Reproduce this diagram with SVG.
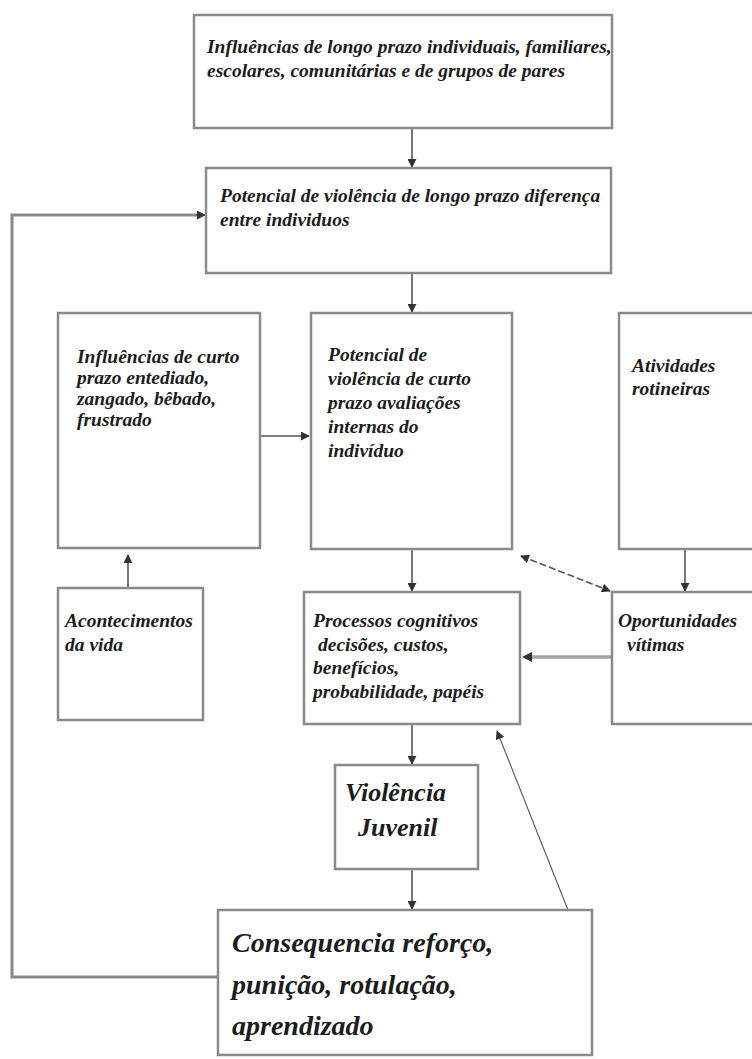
<svg xmlns="http://www.w3.org/2000/svg" width="752" height="1059" viewBox="0 0 752 1059">
<defs>
<style>
.box{fill:#ffffff;stroke:#8a8a8a;stroke-width:2.5}
.t{font-family:"Liberation Serif","Times New Roman",serif;font-weight:bold;font-style:italic;fill:#1c1c1c;font-size:19.5px}
.big{font-size:26px}
.huge{font-size:28px}
.c{fill:none;stroke:#555555;stroke-width:1.6}
</style>
<marker id="ah" viewBox="0 0 10 10" refX="9" refY="5" markerWidth="9" markerHeight="9" markerUnits="userSpaceOnUse" orient="auto-start-reverse">
<path d="M0,0 L10,5 L0,10 z" fill="#333333"/>
</marker>
</defs>
<rect width="752" height="1059" fill="#ffffff"/>
<g id="connectors">
<path class="c" d="M412,128 V167" marker-end="url(#ah)"/>
<path class="c" d="M412,273 V312" marker-end="url(#ah)"/>
<path class="c" d="M260,436 H309" marker-end="url(#ah)"/>
<path class="c" d="M128,588 V555" marker-end="url(#ah)"/>
<path class="c" d="M412,549 V591" marker-end="url(#ah)"/>
<path class="c" d="M685,549 V591" marker-end="url(#ah)"/>
<path class="c" d="M521,556 L610,591" stroke="#666666" stroke-dasharray="7,3" marker-start="url(#ah)" marker-end="url(#ah)"/>
<path d="M612,657 H530" fill="none" stroke="#a3a3a3" stroke-width="3.5"/>
<path d="M522,657 L532,652 L532,662 z" fill="#333333"/>
<path class="c" d="M412,724 V764" marker-end="url(#ah)"/>
<path class="c" d="M412,869 V909" marker-end="url(#ah)"/>
<path fill="none" stroke="#555555" stroke-width="1.1" d="M568,910 L497,731" marker-end="url(#ah)"/>
<path fill="none" stroke="#8a8a8a" stroke-width="3" d="M218,977 H12 V215 H198"/>
<path class="c" d="M196,215 H205" marker-end="url(#ah)"/>
</g>
<g id="n-top">
<rect class="box" x="194" y="15" width="418" height="113"/>
<text class="t" x="207" y="53">Influências de longo prazo individuais, familiares,</text>
<text class="t" x="207" y="77">escolares, comunitárias e de grupos de pares</text>
</g>
<g id="n-longo">
<rect class="box" x="206" y="168" width="405" height="105"/>
<text class="t" x="220" y="202">Potencial de violência de longo prazo diferença</text>
<text class="t" x="220" y="226">entre individuos</text>
</g>
<g id="n-curto-infl">
<rect class="box" x="58" y="313" width="202" height="235"/>
<text class="t" x="77" y="363">Influências de curto</text>
<text class="t" x="77" y="384">prazo entediado,</text>
<text class="t" x="77" y="405">zangado, bêbado,</text>
<text class="t" x="77" y="426">frustrado</text>
</g>
<g id="n-curto-pot">
<rect class="box" x="311" y="313" width="201" height="236"/>
<text class="t" x="328" y="361">Potencial de</text>
<text class="t" x="328" y="385">violência de curto</text>
<text class="t" x="328" y="409">prazo avaliações</text>
<text class="t" x="328" y="433">internas do</text>
<text class="t" x="328" y="457">indivíduo</text>
</g>
<g id="n-atividades">
<rect class="box" x="619" y="313" width="150" height="236"/>
<text class="t" x="632" y="372">Atividades</text>
<text class="t" x="632" y="395">rotineiras</text>
</g>
<g id="n-acontecimentos">
<rect class="box" x="58" y="588" width="145" height="132"/>
<text class="t" x="65" y="627">Acontecimentos</text>
<text class="t" x="65" y="651">da vida</text>
</g>
<g id="n-processos">
<rect class="box" x="304" y="592" width="216" height="132"/>
<text class="t" x="313" y="627">Processos cognitivos</text>
<text class="t" x="318" y="651">decisões, custos,</text>
<text class="t" x="313" y="674">benefícios,</text>
<text class="t" x="313" y="698">probabilidade, papéis</text>
</g>
<g id="n-oportunidades">
<rect class="box" x="612" y="592" width="150" height="132"/>
<text class="t" x="618" y="627">Oportunidades</text>
<text class="t" x="627" y="651">vítimas</text>
</g>
<g id="n-violencia">
<rect class="box" x="335" y="765" width="143" height="104"/>
<text class="t big" x="345" y="801">Violência</text>
<text class="t big" x="358" y="836">Juvenil</text>
</g>
<g id="n-consequencia">
<rect class="box" x="218" y="910" width="374" height="145"/>
<text class="t huge" x="232" y="952">Consequencia reforço,</text>
<text class="t huge" x="232" y="994">punição, rotulação,</text>
<text class="t huge" x="232" y="1035">aprendizado</text>
</g>
</svg>
